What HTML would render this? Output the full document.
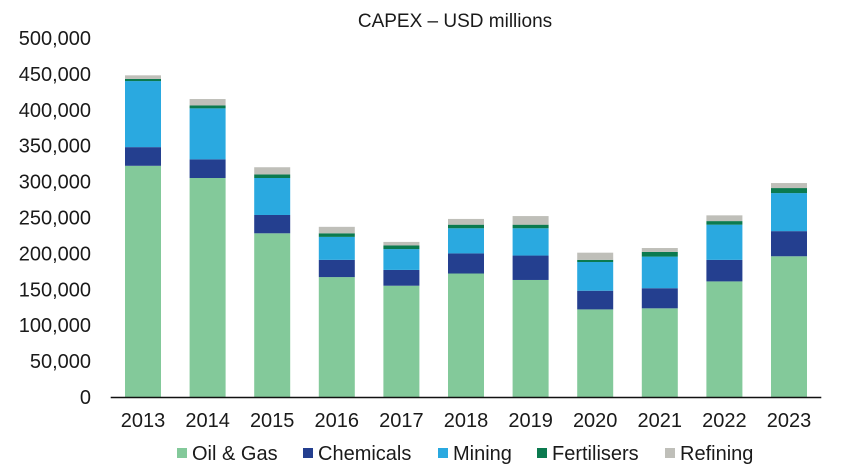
<!DOCTYPE html>
<html><head><meta charset="utf-8"><style>
body{margin:0;background:#fff;font-family:"Liberation Sans",Arial,sans-serif;}
svg text{font-family:"Liberation Sans",Arial,sans-serif;fill:#1a1a1a;}
</style></head><body>
<svg id="chart" width="846" height="470" viewBox="0 0 846 470">
<text x="455" y="27" font-size="19" text-anchor="middle">CAPEX – USD millions</text>
<g id="yaxis"></g><g id="bars"></g><g id="xaxis"></g><g id="legend"></g>
</svg>
<script>
const years=["2013","2014","2015","2016","2017","2018","2019","2020","2021","2022","2023"];
const oilGas=[322,305,228,167,155,172,163,122,123.5,161,196];
const chemicals=[26,26,25.5,24,22,28,34,26,28,30,35];
const mining=[92,71,51.5,32,29,35,38,40,44,49,53];
const fertilisers=[3,4,5,5,5,5,5,3,6.5,5,7];
const refining=[5,9,10,9,5,8,12,10,5.5,8,7];
const yTicks=[0,50,100,150,200,250,300,350,400,450,500];
const seriesNames=["Oil & Gas","Chemicals","Mining","Fertilisers","Refining"];
const seriesData=[oilGas,chemicals,mining,fertilisers,refining];
const colors=["#83c99a","#243f8f","#2aa9e0","#0b7a4f","#bfbfb9"];
const NS="http://www.w3.org/2000/svg";
const x0=110.7,step=64.6,bw=36,yBase=397,yTop=38,yMax=500;
function y(v){return yBase-(v/yMax)*(yBase-yTop);}
function xc(i){return x0+step*(i+0.5);}
function mk(tag,attrs,parent){const e=document.createElementNS(NS,tag);for(const k in attrs)e.setAttribute(k,attrs[k]);parent.appendChild(e);return e;}
const ya=document.getElementById('yaxis');
yTicks.forEach(t=>{const tx=mk('text',{x:91,y:y(t)+7,'font-size':20,'text-anchor':'end'},ya);


tx.textContent=(t*1000).toLocaleString('en-US');});
const bg=document.getElementById('bars');
years.forEach((yr,i)=>{let acc=0;seriesData.forEach((s,k)=>{const v=s[i];
const r=mk('rect',{x:xc(i)-bw/2,y:y(acc+v),width:bw,height:y(acc)-y(acc+v),fill:colors[k]},bg);


acc+=v;});});
const xa=document.getElementById('xaxis');
const ax=mk('line',{x1:x0,x2:x0+step*years.length,y1:yBase+0.5,y2:yBase+0.5,stroke:'#111','stroke-width':1.5},xa);


years.forEach((yr,i)=>{const t=mk('text',{x:xc(i),y:427,'font-size':20,'text-anchor':'middle'},xa);


t.textContent=yr;});
const lg=document.getElementById('legend');
const lx=[177,303,438,537,665];
seriesNames.forEach((n,k)=>{const g=mk('g',{},lg);


mk('rect',{x:lx[k],y:448,width:10,height:10,fill:colors[k]},g);
const t=mk('text',{x:lx[k]+15,y:460,'font-size':20},g);t.textContent=n;});
</script>
</body></html>
